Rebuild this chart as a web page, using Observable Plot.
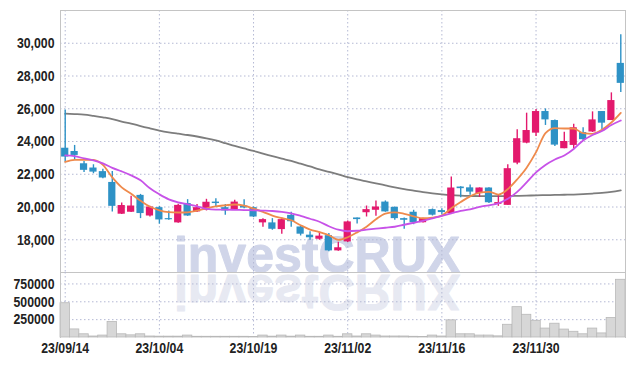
<!DOCTYPE html>
<html><head><meta charset="utf-8">
<script src="https://cdn.jsdelivr.net/npm/d3@7"></script>
<script src="https://cdn.jsdelivr.net/npm/@observablehq/plot@0.6"></script>
<style>
html,body{margin:0;padding:0;background:#fff;}
#wrap{position:relative;width:634px;height:366px;overflow:hidden;}
#wm{position:absolute;left:0;top:0;}
#charts{position:absolute;left:0;top:0;}
#charts svg{display:block;}
</style></head><body>
<div id="wrap"><svg id="wm" width="634" height="366"></svg><div id="charts"></div></div>
<script>
const dates = ["23/09/14","23/09/15","23/09/18","23/09/19","23/09/20","23/09/21","23/09/22","23/09/25","23/09/26","23/09/27",
"23/10/04","23/10/05","23/10/06","23/10/10","23/10/11","23/10/12","23/10/13","23/10/16","23/10/17","23/10/18",
"23/10/19","23/10/20","23/10/23","23/10/24","23/10/25","23/10/26","23/10/27","23/10/30","23/10/31","23/11/01",
"23/11/02","23/11/03","23/11/06","23/11/07","23/11/08","23/11/09","23/11/10","23/11/13","23/11/14","23/11/15",
"23/11/16","23/11/17","23/11/20","23/11/21","23/11/22","23/11/23","23/11/24","23/11/27","23/11/28","23/11/29",
"23/11/30","23/12/01","23/12/04","23/12/05","23/12/06","23/12/07","23/12/08","23/12/11","23/12/12","23/12/13"];
const open  = [23590,23390,22640,22380,22160,21500,19560,19680,20710,19450,19960,19290,19030,20210,19700,19800,20300,19960,19820,20060,
19960,19030,19030,18620,19490,18780,18280,18030,18250,17320,17870,19330,19650,19800,20300,19980,19290,19680,19040,19840,
19780,19590,21220,21170,20820,21160,20160,20100,22680,23900,24510,25830,25280,23560,23760,24550,24580,25830,25280,28770];
const high  = [25930,23760,22780,22580,22300,22170,20240,20650,20770,20040,20040,19760,20170,20450,20150,20470,20510,20150,20410,20450,
20000,19290,19290,19330,19680,18820,18490,18460,18380,17850,19150,19330,20060,20370,20370,20000,19330,19800,19310,19880,
19900,21830,21230,21350,21170,21170,20710,22580,24710,25730,25950,25990,25320,24570,25060,24840,25810,25830,26970,30520];
const low   = [22740,22900,22100,22030,21730,19700,19540,19660,19290,19390,18950,19190,19010,19430,19660,19760,20000,19490,19800,19900,
19350,18760,18580,18340,18760,18230,17970,17970,17260,17300,17830,18960,19390,19430,19680,19190,18640,18920,19030,19450,
19520,19540,20570,20710,20590,20220,20040,20100,22580,23860,24310,24980,23700,23560,23560,24060,24550,24730,25280,27000];
const close = [23050,23150,22240,22130,21770,20040,20090,20060,19600,20000,19210,19220,20100,19450,19960,20290,20210,19760,20300,19940,
19390,19230,18640,19230,19100,18340,18120,18220,17320,17510,19090,19230,19840,20000,19700,19290,19190,19040,19290,19500,
19660,21160,21120,20910,21160,20260,20270,22340,24170,24670,25830,25320,23780,24000,24840,24110,25320,25120,26500,27550];
const volume = [480000,113000,45000,14000,27000,218000,45000,30000,45000,14000,12000,12000,12000,27000,10000,10000,10000,10000,10000,10000,
8000,27000,12000,27000,12000,27000,10000,10000,27000,10000,45000,14000,45000,27000,14000,14000,14000,10000,6000,27000,
14000,240000,45000,45000,27000,27000,16000,178000,425000,318000,234000,125000,193000,111000,80000,45000,125000,57000,273000,808000];
const ma5 = [22753,22875,22887,22875,22570,21810,21200,20804,20378,20013,19800,19690,19665,19677,19782,19921,20043,20104,20152,20080,
19903,19702,19477,19325,19190,18886,18624,18460,18277,17990,18155,18450,18800,19250,19600,19677,19586,19434,19312,19355,
19477,19921,20305,20652,20877,20926,20761,21090,21687,22400,23350,24507,24812,24793,24793,24507,24470,24714,25158,25749];
const ma20 = [23149,23106,22966,22844,22661,22388,22174,21931,21627,21140,20774,20469,20287,20165,20043,19891,19842,19842,19830,19812,
19800,19781,19757,19708,19617,19464,19282,19099,18825,18612,18520,18551,18612,18673,18734,18794,18916,19038,19160,19312,
19464,19617,19769,19860,20013,20104,20226,20500,20926,21504,22113,22570,22905,23149,23545,24062,24397,24641,25006,25280];
const ma60 = [25697,25676,25646,25567,25475,25372,25219,25098,24945,24805,24671,24562,24476,24397,24306,24196,24062,23898,23727,23575,
23423,23258,23100,22954,22814,22643,22479,22296,22144,21992,21827,21687,21565,21444,21322,21200,21090,20999,20908,20835,
20774,20725,20695,20676,20664,20664,20664,20670,20682,20695,20713,20725,20737,20749,20761,20786,20822,20865,20926,21017];
const priceTicks = [18000,20000,22000,24000,26000,28000,30000];
const volumeTicks = [250000,500000,750000];
const watermark = "investCRUX";

const rows = dates.map((d, i) => ({date: d, open: open[i], high: high[i], low: low[i], close: close[i],
  vol: volume[i], ma5: ma5[i], ma20: ma20[i], ma60: ma60[i]}));
const tickDates = dates.filter((d, i) => i % 10 === 0);
const RED = "#e3196d", BLUE = "#2e92c6";
const color = d => d.close >= d.open ? RED : BLUE;
const font = "'Liberation Sans', Arial, sans-serif";
const grid = {stroke: "#b4b9d4", strokeOpacity: 1, strokeDasharray: "1.5,2.5", strokeWidth: 1};
const frameStroke = "#c4c4c4";
const style = {background: "transparent", fontFamily: font, fontSize: "15px", fontWeight: "bold", color: "#222", overflow: "visible"};
const xScale = {type: "band", domain: dates, padding: 0, round: false, axis: null};

// watermark (real text), with mirrored reflection
const wm = d3.select("#wm");
wm.append("text").attr("x", 317).attr("y", 272).attr("text-anchor", "middle")
  .attr("font-family", font).attr("font-weight", "bold").attr("font-size", 50)
  .attr("fill", "#d0d5e9").attr("stroke", "#d0d5e9").attr("stroke-width", 1)
  .attr("stroke-linejoin", "round").text(watermark);
wm.append("text").attr("x", 317).attr("y", 272).attr("text-anchor", "middle")
  .attr("transform", "matrix(1,0,0,-1,0,547)")
  .attr("font-family", font).attr("font-weight", "bold").attr("font-size", 50)
  .attr("fill", "#e7e9f2").attr("stroke", "#e7e9f2").attr("stroke-width", 1)
  .attr("stroke-linejoin", "round").text(watermark);

const price = Plot.plot({
  width: 634, height: 272, marginTop: 10, marginBottom: 0, marginLeft: 60, marginRight: 9,
  style, x: xScale,
  y: {domain: [16000, 32000], axis: null},
  marks: [
    Plot.gridX(tickDates, grid),
    Plot.gridY(priceTicks, grid),
    Plot.frame({stroke: frameStroke}),
    Plot.lineY(rows, {x: "date", y: "ma60", stroke: "#7d7d7d", strokeWidth: 1.8, curve: "monotone-x"}),
    Plot.ruleX(rows, {x: "date", y1: "low", y2: "high", stroke: color, strokeWidth: 1.4}),
    Plot.barY(rows, {x: "date", y1: "open", y2: "close", fill: color, insetLeft: 1.1, insetRight: 1.1}),
    Plot.lineY(rows, {x: "date", y: "ma5", stroke: "#ef8a4c", strokeWidth: 1.8, curve: "monotone-x"}),
    Plot.lineY(rows, {x: "date", y: "ma20", stroke: "#c752e8", strokeWidth: 1.8, curve: "monotone-x"}),
    Plot.axisY(priceTicks, {tickSize: 0, tickPadding: 6, label: null, tickFormat: d3.format(","), fill: "#222"})
  ]
});

const vol = Plot.plot({
  width: 634, height: 94, marginTop: 0, marginBottom: 29, marginLeft: 60, marginRight: 9,
  style, x: xScale,
  y: {domain: [0, 910000], axis: null},
  marks: [
    Plot.gridX(tickDates, grid),
    Plot.gridY(volumeTicks, grid),
    Plot.barY(rows, {x: "date", y: "vol", fill: "#d7d7d7", stroke: "#b8b8b8", strokeWidth: 0.8}),
    Plot.frame({anchor: "left", stroke: frameStroke}),
    Plot.frame({anchor: "right", stroke: frameStroke}),
    Plot.axisY(volumeTicks, {tickSize: 0, tickPadding: 6, label: null, tickFormat: d => String(d), fill: "#222"}),
    Plot.axisX(tickDates, {tickSize: 0, tickPadding: 5, label: null, fill: "#222"})
  ]
});

// narrow the tick labels (condensed look) around their own anchor
for (const svg of [price, vol]) {
  svg.querySelectorAll("g[aria-label^='y-axis'] text, g[aria-label^='x-axis'] text").forEach(t => {
    const tr = t.getAttribute("transform");
    if (tr && tr.includes("translate")) t.setAttribute("transform", tr + " scale(0.82,1)");
    else {
      const x = +(t.getAttribute("x") || 0);
      t.setAttribute("transform", `translate(${x},0) scale(0.82,1) translate(${-x},0)`);
    }
  });
}

document.getElementById("charts").append(price, vol);
</script>
</body></html>
